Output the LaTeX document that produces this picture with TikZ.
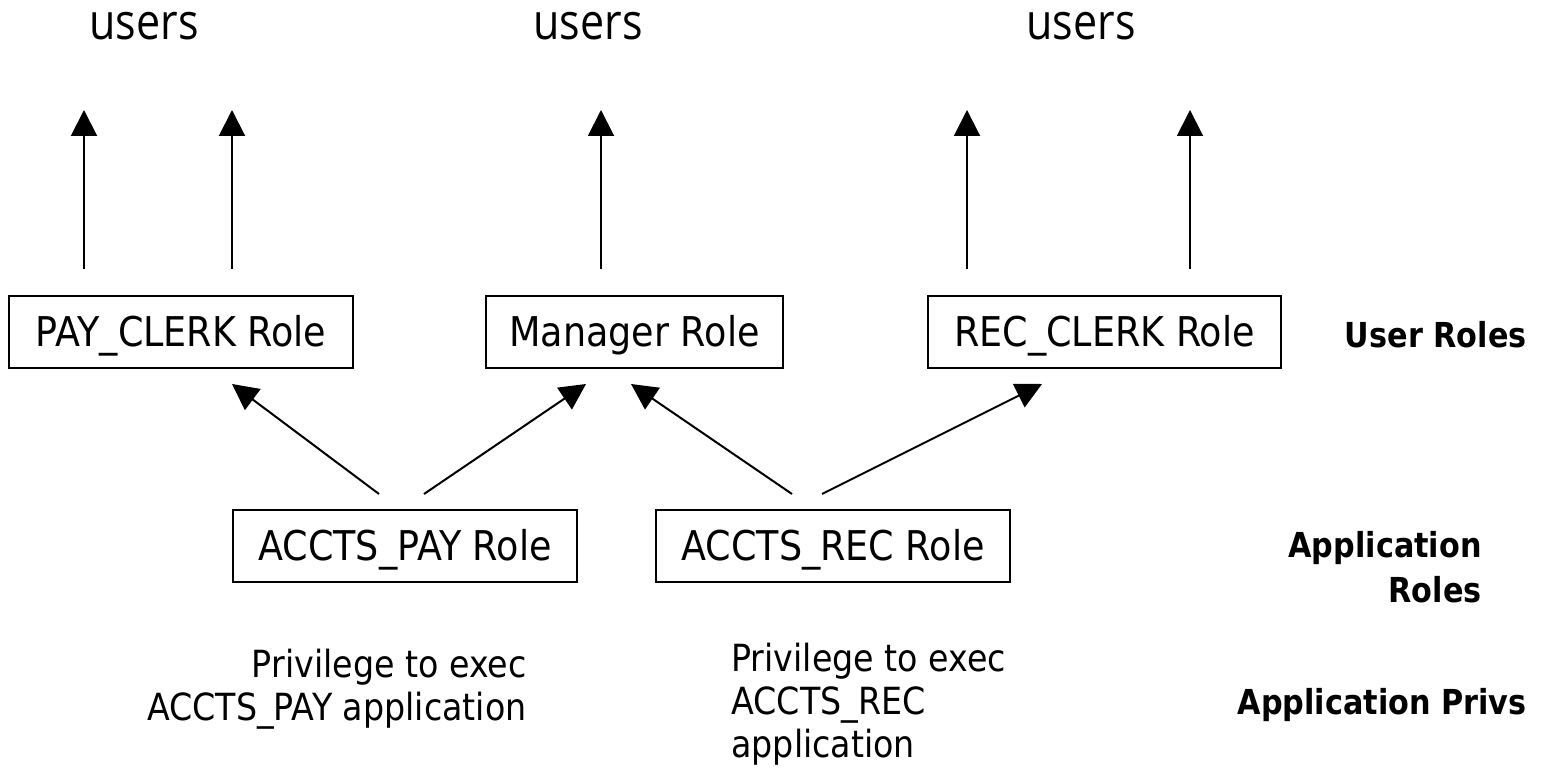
\documentclass[tikz,border=0pt]{standalone}
\usepackage{fontspec}
\usetikzlibrary{arrows.meta,calc}
\newfontfamily\boxfont[FakeStretch=0.89]{DejaVu Sans}
\newfontfamily\userfont[FakeStretch=0.86]{Open Sans}
\newfontfamily\labfont[FakeStretch=0.88]{DejaVu Sans Bold}

\begin{document}
\begin{tikzpicture}[x=0.5pt,y=-0.5pt,
  rolebox/.style={draw, line width=1pt, inner sep=0pt, minimum height=36pt,
    text height=15pt, text depth=0pt, font=\boxfont\fontsize{20.5}{24}\selectfont},
  arr/.style={line width=1pt, -{Triangle[width=13pt,length=13pt]}},
  usertext/.style={font=\userfont\fontsize{25}{30}\selectfont, inner sep=0pt, anchor=base},
  privtext/.style={font=\boxfont\fontsize{18.7}{21.5}\selectfont, inner sep=0pt},
  tiertext/.style={font=\labfont\fontsize{17.2}{22.5}\selectfont, inner sep=0pt, align=right}]

\useasboundingbox (0,0) rectangle (1558,769);

% role boxes
\node[rolebox, minimum width=172pt]   (pc) at (181,332)    {PAY\_CLERK Role};
\node[rolebox, minimum width=148.5pt] (mg) at (634.5,332)  {Manager Role};
\node[rolebox, minimum width=176.5pt] (rc) at (1104.5,332) {REC\_CLERK Role};
\node[rolebox, minimum width=172pt]   (ap) at (405,546)    {ACCTS\_PAY Role};
\node[rolebox, minimum width=177pt]   (ar) at (833,546)    {ACCTS\_REC Role};

% users
\node[usertext] (u1) at (144,40)  {users};
\node[usertext] (u2) at (588,40)  {users};
\node[usertext] (u3) at (1081,40) {users};

% tips of the grants to users
\coordinate (t1) at (84,110);
\coordinate (t2) at (232,110);
\coordinate (t3) at (601,110);
\coordinate (t4) at (967,110);
\coordinate (t5) at (1190,110);

\draw[arr] (pc.north -| t1) ++(0,-26) -- (t1);
\draw[arr] (pc.north -| t2) ++(0,-26) -- (t2);
\draw[arr] (mg.north -| t3) ++(0,-26) -- (t3);
\draw[arr] (rc.north -| t4) ++(0,-26) -- (t4);
\draw[arr] (rc.north -| t5) ++(0,-26) -- (t5);

% application roles granted to user roles
\draw[arr] ($(ap.north west)+(147,-15)$) -- ($(pc.south west)+(224,15)$);
\draw[arr] ($(ap.north west)+(192,-15)$) -- ($(mg.south west)+(101,15)$);
\draw[arr] ($(ar.north west)+(137,-15)$) -- ($(mg.south west)+(146,15)$);
\draw[arr] ($(ar.north west)+(167,-15)$) -- ($(rc.south west)+(115,15)$);

% privileges
\node[privtext, anchor=north east, align=right] (p1) at (527,649)
  {Privilege to exec\\ACCTS\_PAY application};
\node[privtext, anchor=north west, align=left] (p2) at (731,643)
  {Privilege to exec\\ACCTS\_REC\\application};

% tier labels
\node[tiertext, anchor=base east]  (l1) at (1527,348) {User Roles};
\node[tiertext, anchor=north east] (l2) at (1482,531) {Application\\Roles};
\node[tiertext, anchor=base east]  (l3) at (1527,714) {Application Privs};
\end{tikzpicture}
\end{document}
